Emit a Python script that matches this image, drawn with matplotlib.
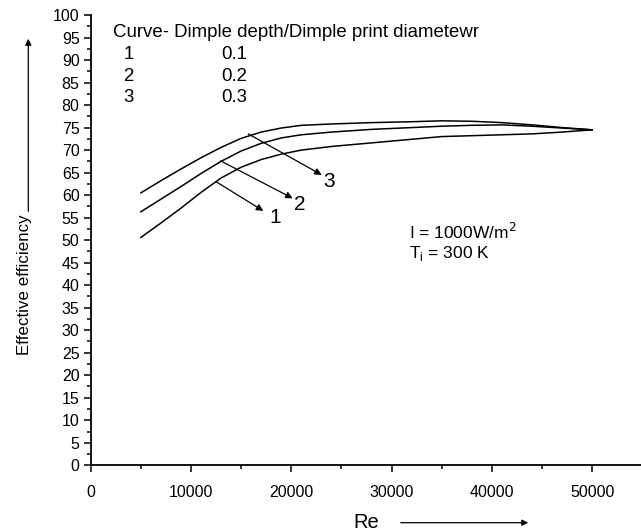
import matplotlib
matplotlib.use("Agg")
import matplotlib.pyplot as plt
from matplotlib.patches import FancyArrowPatch
from matplotlib.ticker import MultipleLocator

plt.rcParams['font.family'] = ['Liberation Sans', 'DejaVu Sans']

# Data (Reynolds number vs effective efficiency, %)
re_vals = [5000, 7000, 9000, 11000, 13000, 15000, 17000, 19000, 21000,
           24000, 28000, 32000, 35000, 38000, 41000, 44000, 47000, 50000]
curve1 = [50.6, 53.8, 57.1, 60.6, 63.8, 66.2, 67.9, 69.1, 70.0,
          70.8, 71.6, 72.4, 73.0, 73.2, 73.4, 73.6, 74.0, 74.5]
curve2 = [56.3, 59.1, 61.9, 64.8, 67.5, 69.8, 71.5, 72.7, 73.4,
          74.0, 74.6, 75.0, 75.3, 75.5, 75.6, 75.3, 74.9, 74.5]
curve3 = [60.5, 63.2, 65.8, 68.3, 70.6, 72.6, 74.0, 74.9, 75.5,
          75.8, 76.1, 76.3, 76.5, 76.4, 76.1, 75.6, 75.0, 74.5]

legend_title = "Curve- Dimple depth/Dimple print diametewr"
legend_curves = ["1", "2", "3"]
legend_ratios = ["0.1", "0.2", "0.3"]

fig = plt.figure(figsize=(6.41, 5.31), dpi=100)
L, B, T = 90.7, 465.3, 15.0
ax = fig.add_axes([L/641, 1 - B/531, 1 - L/641, (B - T)/531])

for ys in (curve1, curve2, curve3):
    ax.plot(re_vals, ys, color='black', lw=1.1, solid_joinstyle='round')

ax.set_xlim(0, 54870)
ax.set_ylim(0, 100)
ax.spines['top'].set_visible(False)
ax.spines['right'].set_visible(False)
for s in ('left', 'bottom'):
    ax.spines[s].set_linewidth(1.3)

ax.xaxis.set_major_locator(MultipleLocator(10000))
ax.xaxis.set_minor_locator(MultipleLocator(5000))
ax.yaxis.set_major_locator(MultipleLocator(5))
ax.yaxis.set_minor_locator(MultipleLocator(2.5))
ax.tick_params(which='major', direction='out', length=5, width=1.1, labelsize=11.5)
ax.tick_params(which='minor', direction='out', length=3, width=1.1)
ax.tick_params(axis='x', pad=9)
ax.tick_params(axis='y', pad=3)

# legend-like text
ax.text(2190, 96.2, legend_title, fontsize=13.4, va='center', ha='left')
row_y = [91.3, 86.4, 81.6]
for c, v, yy in zip(legend_curves, legend_ratios, row_y):
    ax.text(3750, yy, c, fontsize=13.4, va='center', ha='center')
    ax.text(12990, yy, v, fontsize=13.4, va='center', ha='left')

# curve arrows
arrows = [((12490, 63.0), (17210, 56.5), "1", (18350, 55.0)),
          ((12960, 67.6), (20140, 59.3), "2", (20800, 57.9)),
          ((15710, 73.6), (23030, 64.5), "3", (23800, 63.0))]
for start, end, lab, lp in arrows:
    ax.annotate("", xy=end, xytext=start,
                arrowprops=dict(arrowstyle='-|>', color='black', lw=0.9,
                                mutation_scale=10, shrinkA=0, shrinkB=0))
    ax.text(lp[0], lp[1], lab, fontsize=15, ha='center', va='center')

ax.text(31770, 51.9, r"I = 1000W/m$^{2}$", fontsize=12.5, ha='left', va='center')
ax.text(31770, 47.1, r"T$_{\mathregular{i}}$ = 300 K", fontsize=12.5, ha='left', va='center')

# axis labels with arrows
fig.text(25/641, 1 - 285/531, "Effective efficiency", rotation=90,
         fontsize=12.2, ha='center', va='center')
fig.add_artist(FancyArrowPatch(
    (28.3/641, 1 - 214/531), (28.3/641, 1 - 36/531), transform=fig.transFigure,
    arrowstyle='-|>', mutation_scale=9, color='black', lw=0.9))
fig.text(366/641, 1 - 522/531, "Re", fontsize=14.5, ha='center', va='center')
fig.add_artist(FancyArrowPatch(
    (398/641, 1 - 522.7/531), (531/641, 1 - 522.7/531), transform=fig.transFigure,
    arrowstyle='-|>', mutation_scale=9, color='black', lw=0.9))

fig.savefig("out.png", dpi=100)
